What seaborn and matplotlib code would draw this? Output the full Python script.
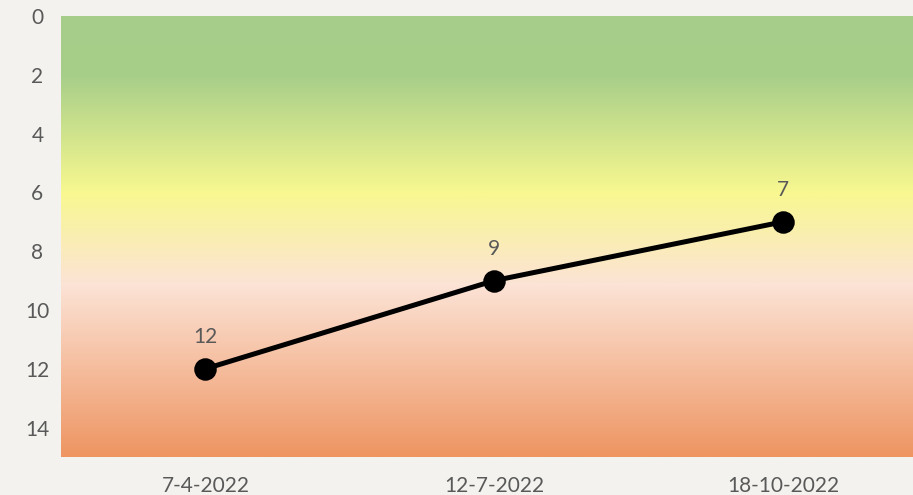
import numpy as np
import pandas as pd
import matplotlib
matplotlib.use("Agg")
import matplotlib.pyplot as plt
from matplotlib.colors import LinearSegmentedColormap
import seaborn as sns

dates = ["7-4-2022", "12-7-2022", "18-10-2022"]
scores = [12, 9, 7]
y_ticks = [0, 2, 4, 6, 8, 10, 12, 14]

sns.set_style("white")
plt.rcParams['font.family'] = ['Lato', 'DejaVu Sans']

bg = "#F3F2EE"
text_col = "#595959"

fig = plt.figure(figsize=(9.13, 4.95), dpi=100, facecolor=bg)
ax = fig.add_axes([61/913, 38/495, 866.5/913, 441/495])
ax.set_facecolor(bg)

# background gradient (top = green, bottom = orange)
cmap = LinearSegmentedColormap.from_list(
    "bandgrad",
    [(0.0, "#A7CF8B"), (0.13, "#A6CE89"), (0.40, "#F8F890"),
     (0.61, "#FCE3D6"), (1.0, "#EE9562")])
grad = np.linspace(0, 1, 512).reshape(-1, 1)
ax.imshow(grad, cmap=cmap, aspect="auto", extent=[0, 1, 0, 1],
          origin="upper", transform=ax.transAxes, zorder=0)

df = pd.DataFrame({"date": dates, "score": scores})
sns.pointplot(data=df, x="date", y="score", color="black", ax=ax,
              markersize=13.5, linewidth=3.6, zorder=3)

for i, v in enumerate(scores):
    ax.annotate(str(v), (i, v), xytext=(0, 23), textcoords="offset points",
                ha="center", va="center", fontsize=15, color=text_col)

ax.set_xlim(-0.5, 2.5)
ax.set_ylim(15, 0)
ax.set_yticks(y_ticks)
ax.set_xlabel("")
ax.set_ylabel("")
ax.tick_params(axis="both", length=0, labelsize=15, labelcolor=text_col)
ax.tick_params(axis="x", pad=14)
ax.tick_params(axis="y", pad=17)
for lbl in ax.get_yticklabels():
    lbl.set_horizontalalignment("center")
for s in ax.spines.values():
    s.set_visible(False)

fig.savefig("out.png", dpi=100, facecolor=bg)
